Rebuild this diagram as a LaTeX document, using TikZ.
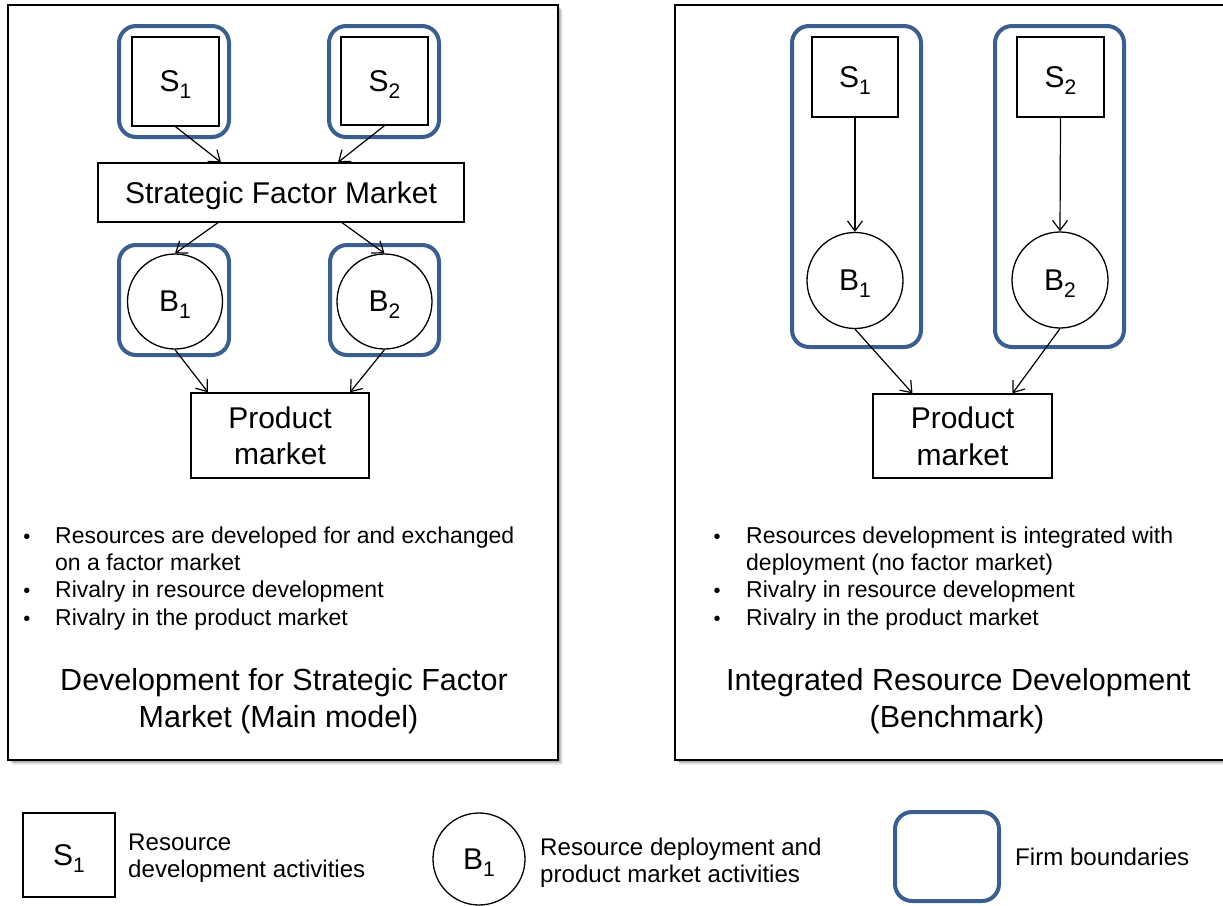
\documentclass[tikz,border=0pt]{standalone}
\usepackage{fontspec}
\setmainfont{Liberation Sans}
\usetikzlibrary{arrows.meta}
\definecolor{firmblue}{RGB}{58,95,142}
% lowered, reduced index after a letter (S1, B2, ...)
\newcommand{\lowsub}[1]{\raisebox{-0.23em}{\scalebox{0.7}{#1}}}
\begin{document}
\begin{tikzpicture}[x=1pt,y=-1pt,
  panel/.style={draw=black,line width=1.5pt,fill=white},
  firm/.style={draw=firmblue,line width=4pt,rounded corners=17pt,inner sep=0pt},
  actbox/.style={draw=black,line width=1.3pt,fill=white,inner sep=0pt,
    font=\fontsize{30}{35}\selectfont,text depth=0pt},
  actcircle/.style={actbox,circle},
  twoline/.style={actbox,align=center,font=\fontsize{30}{36.5}\selectfont},
  conn/.style={line width=1.2pt,-{Straight Barb[length=10pt,width=15pt,line width=1.2pt]}},
  bul/.style={anchor=base west,inner sep=0pt,font=\fontsize{23}{27}\selectfont},
  dot/.style={anchor=base,inner sep=0pt,font=\fontsize{20}{24}\selectfont},
  capt/.style={anchor=base,inner sep=0pt,font=\fontsize{30.5}{36}\selectfont},
  legtext/.style={anchor=base west,inner sep=0pt,font=\fontsize{24.1}{28}\selectfont}]
\useasboundingbox (0,0) rectangle (1223,905);
\fill[white] (0,0) rectangle (1223,905);

% soft shadows behind the two panels
\foreach \k/\o in {1/0.14,2/0.13,3/0.11,4/0.08,5/0.05}{
  \fill[black,opacity=\o] (8+\k,5+\k) rectangle (558+\k,760+\k);
  \fill[black,opacity=\o] (675+\k,5+\k) rectangle (1226+\k,760+\k);
}
\node[panel,minimum width=550pt,minimum height=755pt,inner sep=0pt] (lpanel) at (283,382.5) {};
\node[panel,minimum width=551pt,minimum height=755pt,inner sep=0pt] (rpanel) at (950.5,382.5) {};

% ---------- left: development for a strategic factor market ----------
\node[firm,minimum width=110pt,minimum height=111pt] (lfs1) at (174,81.5) {};
\node[firm,minimum width=110pt,minimum height=111pt] (lfs2) at (384,81.5) {};
\node[firm,minimum width=110pt,minimum height=110pt] (lfb1) at (174,300) {};
\node[firm,minimum width=109pt,minimum height=110pt] (lfb2) at (384.5,300) {};

\node[actbox,minimum width=87pt,minimum height=89pt] (ls1) at (175.5,81.5) {S\lowsub{1}};
\node[actbox,minimum width=87pt,minimum height=88pt] (ls2) at (384.5,81) {S\lowsub{2}};
\node[actbox,minimum width=366pt,minimum height=59pt] (lsfm) at (281,192.5) {Strategic Factor Market};
\node[actcircle,minimum size=95pt] (lb1) at (175,301.5) {B\lowsub{1}};
\node[actcircle,minimum size=95pt] (lb2) at (384.5,301.5) {B\lowsub{2}};
\node[twoline,minimum width=178pt,minimum height=85pt] (lpm) at (280,435.5) {Product\\market};

\draw[conn] (ls1.south) -- ([xshift=-60pt]lsfm.north);
\draw[conn] (ls2.south) -- ([xshift=57pt]lsfm.north);
\draw[conn] ([xshift=-63pt]lsfm.south) -- (lb1.north);
\draw[conn] ([xshift=61pt]lsfm.south) -- (lb2.north);
\draw[conn] (lb1.south) -- ([xshift=-72pt]lpm.north);
\draw[conn] (lb2.south) -- ([xshift=70pt]lpm.north);

\node[dot] (ld1) at (27,543) {\textbullet};
\node[dot] (ld2) at (27,597.5) {\textbullet};
\node[dot] (ld3) at (27,625) {\textbullet};
\node[bul] (lt1) at (55,543) {Resources are developed for and exchanged};
\node[bul] (lt1b) at (55,570) {on a factor market};
\node[bul] (lt2) at (55,597.5) {Rivalry in resource development};
\node[bul] (lt3) at (55,625) {Rivalry in the product market};

\node[capt] (lc1) at (284,690) {Development for Strategic Factor};
\node[capt] (lc2) at (278.5,727) {Market (Main model)};

% ---------- right: integrated resource development ----------
\node[firm,minimum width=129pt,minimum height=321pt] (rf1) at (856.5,186.5) {};
\node[firm,minimum width=129pt,minimum height=321pt] (rf2) at (1059.5,186.5) {};

\node[actbox,minimum width=86pt,minimum height=80pt] (rs1) at (855,77) {S\lowsub{1}};
\node[actbox,minimum width=87pt,minimum height=80pt] (rs2) at (1060.5,77) {S\lowsub{2}};
\node[actcircle,minimum size=96pt] (rb1) at (855,280.5) {B\lowsub{1}};
\node[actcircle,minimum size=96pt] (rb2) at (1060,280) {B\lowsub{2}};
\node[twoline,minimum width=179pt,minimum height=84pt] (rpm) at (962.5,436) {Product\\market};

\draw[conn] (rs1.south) -- (rb1.north);
\draw[conn] (rs2.south) -- (rb2.north);
\draw[conn] (rb1.south) -- ([xshift=-50pt]rpm.north);
\draw[conn] (rb2.south) -- ([xshift=50pt]rpm.north);

\node[dot] (rd1) at (717,543) {\textbullet};
\node[dot] (rd2) at (717,597.5) {\textbullet};
\node[dot] (rd3) at (717,625) {\textbullet};
\node[bul] (rt1) at (746,543) {Resources development is integrated with};
\node[bul] (rt1b) at (746,570) {deployment (no factor market)};
\node[bul] (rt2) at (746,597.5) {Rivalry in resource development};
\node[bul] (rt3) at (746,625) {Rivalry in the product market};

\node[capt] (rc1) at (958.5,690) {Integrated Resource Development};
\node[capt] (rc2) at (957,727) {(Benchmark)};

% ---------- legend ----------
\node[actbox,minimum width=92pt,minimum height=84pt] (gs) at (69,855) {S\lowsub{1}};
\node[legtext] (gst1) at (128,850) {Resource};
\node[legtext] (gst2) at (128,877) {development activities};

\node[actcircle,minimum size=92pt] (gb) at (479,859) {B\lowsub{1}};
\node[legtext] (gbt1) at (540,855) {Resource deployment and};
\node[legtext] (gbt2) at (540,882) {product market activities};

\node[firm,minimum width=104pt,minimum height=89pt] (gf) at (947,856.5) {};
\node[legtext] (gft) at (1015,865) {Firm boundaries};
\end{tikzpicture}
\end{document}
